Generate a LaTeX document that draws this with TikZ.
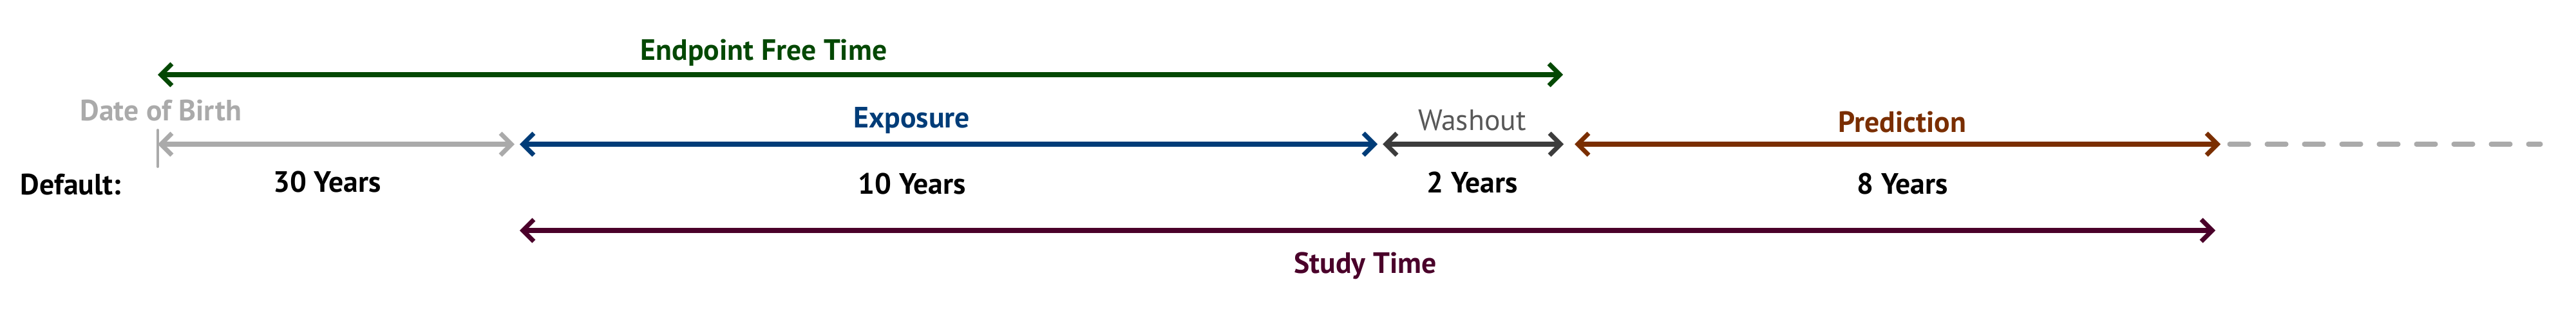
\documentclass[tikz,border=0pt]{standalone}
\usepackage{fontspec}
\setmainfont{PT Sans}
\usetikzlibrary{arrows.meta}
\definecolor{cgreen}{RGB}{4,72,4}
\definecolor{cblue}{RGB}{0,60,120}
\definecolor{cdark}{RGB}{60,60,60}
\definecolor{cwash}{RGB}{88,88,88}
\definecolor{cbrown}{RGB}{122,46,0}
\definecolor{cstudy}{RGB}{74,0,42}
\definecolor{clight}{RGB}{170,170,170}
\begin{document}
\begin{tikzpicture}[x=1cm,y=1cm,line cap=round,line join=round,
  barb/.tip={Straight Barb[length=0.17cm,width=0.34cm]},
  span/.style={line width=2pt,barb-barb},
  lbl/.style={anchor=base,inner sep=0pt,font=\fontsize{13}{15}\selectfont\bfseries},
  lbllight/.style={anchor=base,inner sep=0pt,font=\fontsize{13}{15}\selectfont}]
\useasboundingbox (0,0) rectangle (40,-5.07);
% timeline points
\coordinate (efL) at (2.45,-1.16);
\coordinate (efR) at (24.27,-1.16);
\coordinate (dob) at (2.45,-2.24);
\coordinate (dobT) at (2.45,-2.02);
\coordinate (dobB) at (2.45,-2.59);
\coordinate (g2) at (7.99,-2.24);
\coordinate (e1) at (8.07,-2.24);
\coordinate (e2) at (21.39,-2.24);
\coordinate (w1) at (21.47,-2.24);
\coordinate (w2) at (24.28,-2.24);
\coordinate (p1) at (24.45,-2.24);
\coordinate (p2) at (34.48,-2.24);
\coordinate (d1) at (34.62,-2.24);
\coordinate (d2) at (39.45,-2.24);
\coordinate (s1) at (8.07,-3.58);
\coordinate (s2) at (34.40,-3.58);
% arrows
\draw[span,cgreen] (efL) -- (efR);
\draw[clight,line width=1.1pt] (dobT) -- (dobB);
\draw[span,clight] (dob) -- (g2);
\draw[span,cblue] (e1) -- (e2);
\draw[span,cdark] (w1) -- (w2);
\draw[span,cbrown] (p1) -- (p2);
\draw[clight,line width=2pt,dash pattern=on 0.3cm off 0.28cm] (d1) -- (d2);
\draw[span,cstudy] (s1) -- (s2);
% labels
\node[lbl,cgreen] (eft) at (11.86,-0.93) {Endpoint Free Time};
\node[lbl,clight] (dobt) at (2.50,-1.87) {Date of Birth};
\node[lbl,cblue] (ext) at (14.16,-1.98) {Exposure};
\node[lbllight,cwash] (wat) at (22.86,-2.02) {Washout};
\node[lbl,cbrown] (prt) at (29.54,-2.05) {Prediction};
\node[lbl,black] (deft) at (1.10,-3.02) {Default:};
\node[lbl,black] (y30) at (5.08,-2.98) {30 Years};
\node[lbl,black] (y10) at (14.16,-3.01) {10 Years};
\node[lbl,black] (y2) at (22.86,-2.99) {2 Years};
\node[lbl,black] (y8) at (29.54,-3.01) {8 Years};
\node[lbl,cstudy] (stt) at (21.20,-4.24) {Study Time};
\end{tikzpicture}
\end{document}
